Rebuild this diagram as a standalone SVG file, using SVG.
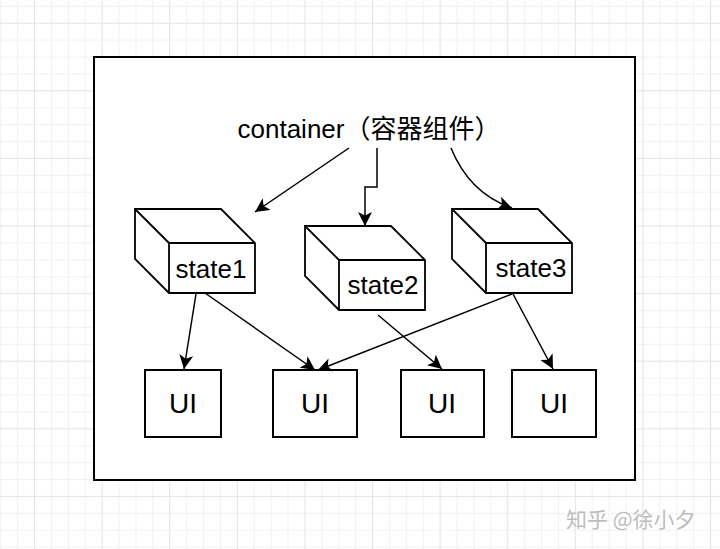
<svg xmlns="http://www.w3.org/2000/svg" width="720" height="549" viewBox="0 0 720 549">
<style>
.box{fill:#fff;stroke:#000;stroke-width:2}
.cube{fill:#fff;stroke:#000;stroke-width:1.8;stroke-linejoin:miter}
.edge{fill:none;stroke:#000;stroke-width:1.5}
.lbl{font-family:"Liberation Sans","Noto Sans CJK SC",sans-serif;fill:#000;text-anchor:middle}
.wm{font-family:"Noto Sans CJK SC","Liberation Sans",sans-serif;fill:#bdbdbd;font-size:21px}
</style>
<defs>
<pattern id="grid" patternUnits="userSpaceOnUse" x="34" y="22.7" width="67.6" height="67.6">
<rect x="0" y="0" width="67.6" height="67.6" fill="#fff"/>
<g fill="#f2f2f2">
<rect x="16.9" y="0" width="1" height="67.6"/><rect x="33.8" y="0" width="1" height="67.6"/><rect x="50.7" y="0" width="1" height="67.6"/>
<rect x="0" y="16.9" width="67.6" height="1"/><rect x="0" y="33.8" width="67.6" height="1"/><rect x="0" y="50.7" width="67.6" height="1"/>
</g>
<g fill="#e4e4e4"><rect x="0" y="0" width="1" height="67.6"/><rect x="0" y="0" width="67.6" height="1"/></g>
</pattern>
<marker id="arr" markerUnits="userSpaceOnUse" markerWidth="16" markerHeight="14" viewBox="0 0 16 14" refX="14" refY="7" orient="auto">
<path d="M0,0 L14,7 L0,14 L3.5,7 Z" fill="#000"/>
</marker>
</defs>
<rect x="0" y="0" width="720" height="549" fill="url(#grid)"/>
<g id="container-box"><rect class="box" x="94" y="57" width="541" height="423"/></g>
<g id="container-label"><text class="lbl" x="369" y="138" font-size="26">container（容器组件）</text></g>
<g id="state1">
<path class="cube" d="M135,209 H221 L255,243 V293 H169 L135,259 Z"/>
<path class="cube" d="M135,209 L169,243 H255 M169,243 V293"/>
<text class="lbl" x="211" y="278" font-size="26">state1</text>
</g>
<g id="state2">
<path class="cube" d="M305,226 H391 L425,260 V310 H339 L305,276 Z"/>
<path class="cube" d="M305,226 L339,260 H425 M339,260 V310"/>
<text class="lbl" x="383" y="294" font-size="26">state2</text>
</g>
<g id="state3">
<path class="cube" d="M452,209 H538 L572,243 V293 H486 L452,259 Z"/>
<path class="cube" d="M452,209 L486,243 H572 M486,243 V293"/>
<text class="lbl" x="531" y="277" font-size="26">state3</text>
</g>
<g id="ui1"><rect class="box" x="145" y="370" width="76" height="67"/><text class="lbl" x="183" y="413" font-size="28">UI</text></g>
<g id="ui2"><rect class="box" x="273" y="370" width="84" height="67"/><text class="lbl" x="315" y="413" font-size="28">UI</text></g>
<g id="ui3"><rect class="box" x="401" y="370" width="83" height="67"/><text class="lbl" x="442" y="413" font-size="28">UI</text></g>
<g id="ui4"><rect class="box" x="512" y="370" width="84" height="67"/><text class="lbl" x="554" y="413" font-size="28">UI</text></g>
<g id="connectors">
<path class="edge" d="M349,148 L255,212" marker-end="url(#arr)"/>
<path class="edge" d="M377,148 V187 H365 V226" marker-end="url(#arr)"/>
<path class="edge" d="M451,148 C462,175 480,197 512,208" marker-end="url(#arr)"/>
<path class="edge" d="M196,294 L184,369" marker-end="url(#arr)"/>
<path class="edge" d="M205,293 L315,370" marker-end="url(#arr)"/>
<path class="edge" d="M512,294 L318,370" marker-end="url(#arr)"/>
<path class="edge" d="M378,315 L442,369" marker-end="url(#arr)"/>
<path class="edge" d="M513,294 L553,369" marker-end="url(#arr)"/>
</g>
<text class="wm" x="566" y="527">知乎 @徐小夕</text>
</svg>
